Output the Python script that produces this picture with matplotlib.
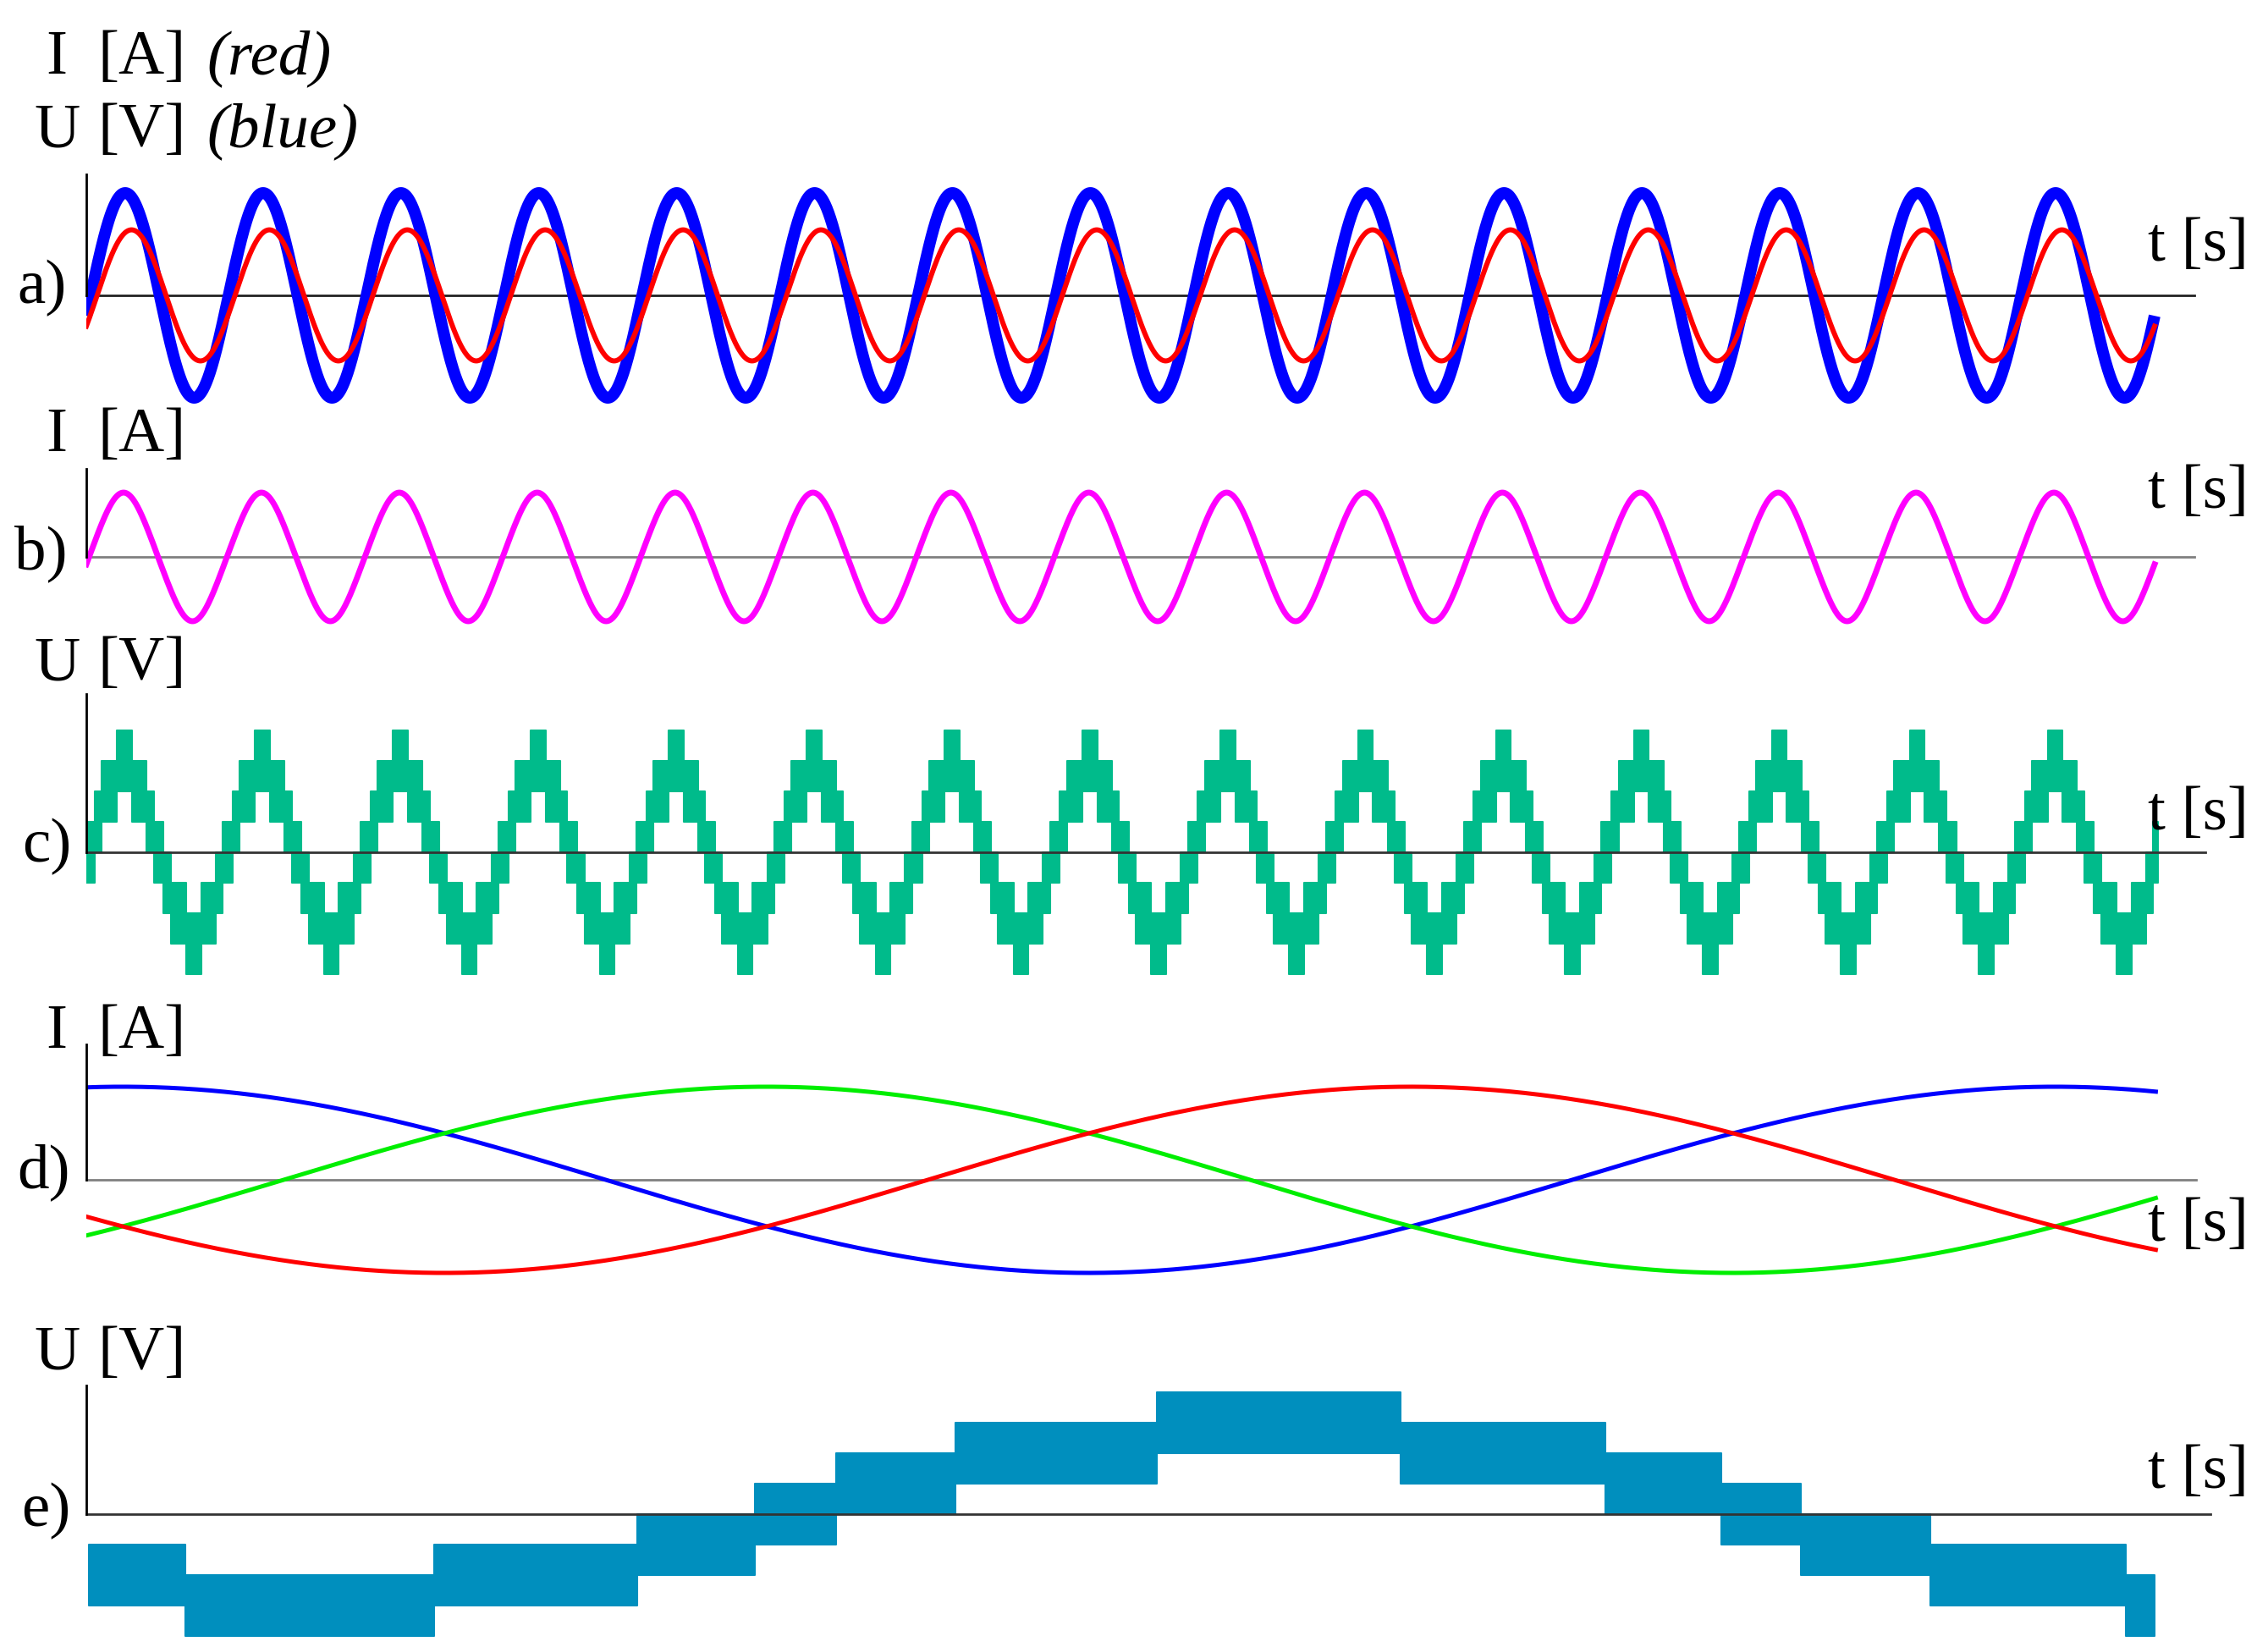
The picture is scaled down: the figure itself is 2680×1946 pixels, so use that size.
import numpy as np
import matplotlib.pyplot as plt

plt.rcParams['font.family'] = ['Liberation Serif', 'DejaVu Serif']

# --- data ---
f_grid = 50.0          # Hz, panels a-c
n_cycles = 15
# a) supply voltage (blue) and current (red), per-unit peaks and upward zero crossings (in cycles)
a_peak = [1.0, 0.64]
a_zero_cross = [0.032, 0.078]
# b) load current, fundamental + small 3rd harmonic
b_peak = 0.98
b_h3 = -0.02
b_zero_cross = 0.02
# c) multilevel voltage: phase edges of one period and centre level of each segment
c_edges = [-0.036, 0.036, 0.087, 0.199, 0.307, 0.413, 0.464, 0.536, 0.587, 0.699, 0.807, 0.913, 0.964, 1.0]
c_levels = [0, 1, 2, 3, 2, 1, 0, -1, -2, -3, -2, -1, 0]
c_zero_cross = 0.0005  # s
# d) three phase currents, peak [A], period [ms], time of first blue peak [ms], phase shift [deg]
d_peak = 10.0
d_period = 19.8
d_t_peak = 0.37
d_phase = [0, 120, 240]
d_colors = ['#0000ff', '#00ee00', '#ff0000']
# e) output voltage of one phase: time edges [ms] and centre level
e_edges = [0.03, 1.01, 3.56, 5.64, 6.85, 7.68, 8.90, 10.97, 13.46, 15.56, 16.75, 17.56, 18.89, 20.89, 21.19]
e_levels = [-2, -3, -2, -1, 0, 1, 2, 3, 2, 1, 0, -1, -2, -3]
level_step = 100.0  # V

W, H = 2680, 1946
fig = plt.figure(figsize=(W / 100, H / 100), dpi=100)


def make_panel(zero, top, bottom, right, unit, xunit, zcolor):
    left = 102
    ax = fig.add_axes([left / W, 1 - bottom / H, (right - left) / W, (bottom - top) / H])
    ax.set_xlim(0, (right - left) / xunit)
    ax.set_ylim(-(bottom - zero) / unit, (zero - top) / unit)
    ax.spines['top'].set_visible(False)
    ax.spines['right'].set_visible(False)
    ax.spines['bottom'].set_position(('data', 0))
    ax.spines['bottom'].set_color(zcolor)
    ax.spines['bottom'].set_linewidth(2)
    ax.spines['bottom'].set_zorder(1)
    ax.spines['left'].set_bounds(0, (zero - top) / unit)
    ax.spines['left'].set_linewidth(2)
    ax.set_xticks([])
    ax.set_yticks([])
    ax.patch.set_visible(False)
    return ax


def text(x, y, s, ha='left', style='normal'):
    fig.text(x / W, 1 - y / H, s, ha=ha, va='baseline', fontsize=54, fontstyle=style)


px_per_s = 2444 / 0.3
px_per_ms = 2307 / 20.0
t = np.linspace(0, n_cycles / f_grid, 8000)

# a)
ax = make_panel(349, 206, 480, 2593, 121, px_per_s, '#222222')
u = a_peak[0] * np.sin(2 * np.pi * (f_grid * t - a_zero_cross[0]))
i = a_peak[1] * np.sin(2 * np.pi * (f_grid * t - a_zero_cross[1]))
ax.plot(t, u, color='#0000ff', lw=10, solid_capstyle='butt')
ax.plot(t, i, color='#ff0000', lw=4.3)

# b)
ax = make_panel(658, 554, 760, 2593, 76, px_per_s, '#808080')
ph = 2 * np.pi * (f_grid * t - b_zero_cross)
ax.plot(t, b_peak * (np.sin(ph) + b_h3 * np.sin(3 * ph)), color='#ff00ff', lw=5)

# c)
ax = make_panel(1007, 820, 1170, 2606, 36, px_per_s, '#333333')
cx, cl = [], []
for k in range(n_cycles):
    for j in range(len(c_levels)):
        cx.append(c_zero_cross + (k + c_edges[j]) / f_grid)
        cl.append(c_levels[j])
cx.append(c_zero_cross + (n_cycles - 1 + c_edges[-1]) / f_grid)
cl.append(c_levels[-1])
cx = np.array(cx)
cl = np.array(cl)
ax.fill_between(cx, cl - 1, cl + 1, step='post', facecolor='#00bb8b', edgecolor='#00bb8b', lw=1.5)

# d)
ax = make_panel(1394, 1234, 1520, 2595, 11, px_per_ms, '#808080')
td = np.linspace(0, 21.2, 3000)
for phase, col in zip(d_phase, d_colors):
    arg = 2 * np.pi * (td - d_t_peak) / d_period - np.radians(phase)
    ax.plot(td, d_peak * np.cos(arg), color=col, lw=3.6)

# e)
ax = make_panel(1789, 1637, 1945, 2612, 36 / level_step, px_per_ms, '#333333')
ex = np.array(e_edges)
el = np.array(e_levels + [e_levels[-1]]) * level_step
ax.fill_between(ex, el - level_step, el + level_step, step='post',
                facecolor='#008fbe', edgecolor='#008fbe', lw=1.5)

# labels
text(67, 87, 'I', ha='center')
text(115, 87, '[A]')
text(244, 87, '(red)', style='italic')
text(67, 173, 'U', ha='center')
text(115, 173, '[V]')
text(244, 173, '(blue)', style='italic')
for yb, sym, unit in [(533, 'I', '[A]'), (803, 'U', '[V]'), (1238, 'I', '[A]'), (1618, 'U', '[V]')]:
    text(67, yb, sym, ha='center')
    text(115, yb, unit)
for xl, yb, s in [(20, 358, 'a)'), (17, 672, 'b)'), (26, 1018, 'c)'), (20, 1403, 'd)'), (25, 1803, 'e)')]:
    text(xl, yb, s)
for yb in [308, 600, 980, 1466, 1758]:
    text(2538, yb, 't [s]')

plt.savefig('out.png', dpi=100)
